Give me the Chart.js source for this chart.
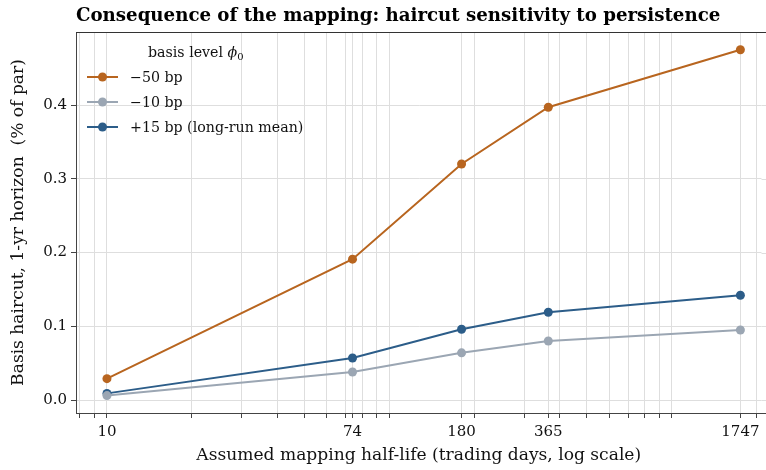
<!DOCTYPE html>
<html>
<head>
<meta charset="utf-8">
<script src="https://cdn.jsdelivr.net/npm/chart.js@4.4.1/dist/chart.umd.min.js"></script>
<style>
  html, body { margin: 0; padding: 0; background: #fff; overflow: hidden; }
  canvas { display: block; }
</style>
</head>
<body>
<canvas id="myChart" width="766" height="470"></canvas>
<script>
// half-life in trading days (log x axis)
var halfLives = [10, 74, 180, 365, 1747];
var seriesLabels = ["\u221250 bp", "\u221210 bp", "+15 bp (long-run mean)"];
var minus50 = [0.029, 0.191, 0.320, 0.397, 0.475];
var minus10 = [0.006, 0.038, 0.064, 0.080, 0.095];
var plus15  = [0.009, 0.057, 0.096, 0.119, 0.142];
var yTicks = [0.0, 0.1, 0.2, 0.3, 0.4];
var minorTicks = [8, 9, 20, 30, 40, 50, 60, 70, 80, 90, 100, 200, 300, 400, 500, 600, 700, 800, 900, 1000, 2000];

var colors = ["#b8651f", "#9ba6b3", "#2c5d89"];
var serif = "'DejaVu Serif', serif";

function pts(ys) {
    return halfLives.map(function (x, i) { return {x: x, y: ys[i]}; });
}

// title, frame lines running off the right edge, and in-axes legend
var extras = {
    id: "extras",
    beforeDatasetsDraw: function (chart) {
        var ctx = chart.ctx, a = chart.chartArea, ys = chart.scales.y;
        ctx.save();
        ctx.strokeStyle = "#dedede";
        ctx.lineWidth = 1;
        yTicks.forEach(function (v) {
            var p = Math.round(ys.getPixelForValue(v)) + 0.5;
            ctx.beginPath();
            ctx.moveTo(a.right, p);
            ctx.lineTo(chart.width, p);
            ctx.stroke();
        });
        ctx.restore();
    },
    afterDraw: function (chart) {
        var ctx = chart.ctx, a = chart.chartArea;
        ctx.save();
        ctx.strokeStyle = "#333";
        ctx.lineWidth = 1;
        ctx.beginPath();
        ctx.moveTo(a.left, a.top + 0.5);
        ctx.lineTo(chart.width, a.top + 0.5);
        ctx.stroke();
        ctx.strokeStyle = "#444";
        ctx.beginPath();
        ctx.moveTo(a.right - 1, a.bottom + 0.5);
        ctx.lineTo(chart.width, a.bottom + 0.5);
        ctx.stroke();

        ctx.fillStyle = "#000";
        ctx.font = "bold 18.2px " + serif;
        ctx.textBaseline = "alphabetic";
        ctx.textAlign = "left";
        ctx.fillText("Consequence of the mapping: haircut sensitivity to persistence", a.left, 21);

        // legend title
        ctx.font = "14.2px " + serif;
        ctx.fillStyle = "#111";
        var t = "basis level ";
        ctx.fillText(t, 148, 57);
        var w = ctx.measureText(t).width;
        ctx.font = "italic 14.2px " + serif;
        ctx.fillText("\u03d5", 148 + w, 57);
        var w2 = ctx.measureText("\u03d5").width;
        ctx.font = "10px " + serif;
        ctx.fillText("0", 148 + w + w2, 60);

        chart.data.datasets.forEach(function (ds, i) {
            var y = 77 + i * 25;
            ctx.strokeStyle = ds.borderColor;
            ctx.lineWidth = 2;
            ctx.beginPath();
            ctx.moveTo(87, y);
            ctx.lineTo(118, y);
            ctx.stroke();
            ctx.fillStyle = ds.borderColor;
            ctx.beginPath();
            ctx.arc(102.5, y, 4.5, 0, Math.PI * 2);
            ctx.fill();
            ctx.fillStyle = "#111";
            ctx.font = "14.2px " + serif;
            ctx.textBaseline = "middle";
            ctx.fillText(ds.label, 130, y + 1);
            ctx.textBaseline = "alphabetic";
        });
        ctx.restore();
    }
};

new Chart("myChart", {
    type: "line",
    data: {
        datasets: [
            {label: seriesLabels[0], data: pts(minus50), borderColor: colors[0], backgroundColor: colors[0]},
            {label: seriesLabels[1], data: pts(minus10), borderColor: colors[1], backgroundColor: colors[1]},
            {label: seriesLabels[2], data: pts(plus15), borderColor: colors[2], backgroundColor: colors[2]}
        ]
    },
    options: {
        responsive: false,
        animation: false,
        layout: {padding: {top: 32, left: 0, right: 0, bottom: 0}},
        elements: {
            line: {borderWidth: 2, tension: 0},
            point: {radius: 4.5, hoverRadius: 4.5, borderWidth: 0}
        },
        plugins: {
            legend: {display: false},
            title: {display: false},
            tooltip: {enabled: false}
        },
        scales: {
            x: {
                type: "logarithmic",
                min: 7.77,
                max: 2075,
                afterBuildTicks: function (scale) {
                    var all = halfLives.concat(minorTicks).sort(function (a, b) { return a - b; });
                    scale.ticks = all.map(function (v) { return {value: v, major: halfLives.indexOf(v) >= 0}; });
                },
                afterFit: function (scale) {
                    scale.height = 57;
                },
                ticks: {
                    autoSkip: false,
                    maxRotation: 0,
                    padding: 5,
                    color: "#111",
                    font: {family: serif, size: 15},
                    callback: function (v) { return halfLives.indexOf(v) >= 0 ? String(v) : ""; }
                },
                grid: {
                    color: "#dedede",
                    lineWidth: 1,
                    tickLength: 5,
                    tickColor: "#444"
                },
                border: {color: "#444", width: 1},
                title: {
                    display: true,
                    text: "Assumed mapping half-life (trading days, log scale)",
                    color: "#111",
                    font: {family: serif, size: 17.1},
                    padding: {top: 1}
                }
            },
            y: {
                min: -0.0176,
                max: 0.499,
                afterBuildTicks: function (scale) {
                    scale.ticks = yTicks.map(function (v) { return {value: v}; });
                },
                afterFit: function (scale) { scale.width = 76; },
                ticks: {
                    padding: 4,
                    color: "#111",
                    font: {family: serif, size: 15},
                    callback: function (v) { return v.toFixed(1); }
                },
                grid: {color: "#dedede", lineWidth: 1, tickLength: 5, tickColor: "#444"},
                border: {color: "#444", width: 1},
                title: {
                    display: true,
                    text: "Basis haircut, 1-yr horizon  (% of par)",
                    color: "#111",
                    font: {family: serif, size: 17.1},
                    padding: {top: 8}
                }
            }
        }
    },
    plugins: [extras]
});
</script>
</body>
</html>
